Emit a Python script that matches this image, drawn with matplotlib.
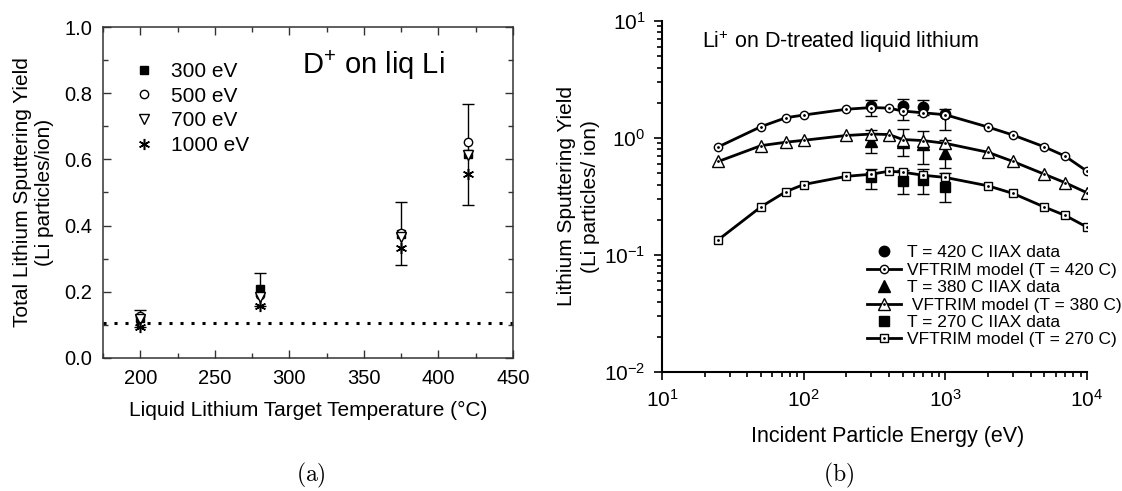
import numpy as np
import matplotlib
matplotlib.use('Agg')
import matplotlib.pyplot as plt
from matplotlib.ticker import MultipleLocator, LogLocator, NullFormatter
from matplotlib.legend_handler import HandlerTuple

plt.rcParams['font.family'] = ['Liberation Sans', 'DejaVu Sans']
plt.rcParams['mathtext.fontset'] = 'custom'
plt.rcParams['mathtext.rm'] = 'Liberation Sans'
plt.rcParams['mathtext.it'] = 'Liberation Sans:italic'

### (a) total yield vs target temperature
temps = [200, 280, 375, 420]
y300 = [0.120, 0.208, 0.375, 0.615]
err300 = [0.025, 0.050, 0.095, 0.152]
y500 = [0.128, 0.190, 0.378, 0.653]
y700 = [0.118, 0.183, 0.365, 0.612]
y1000 = [0.093, 0.158, 0.333, 0.555]
yield_floor = 0.107

### (b) Li+ yield vs incident energy
e_model = [25, 50, 75, 100, 200, 300, 400, 500, 700, 1000, 2000, 3000, 5000, 7000, 10000]
m420 = [0.84, 1.25, 1.49, 1.57, 1.76, 1.82, 1.80, 1.70, 1.64, 1.58, 1.24, 1.06, 0.84, 0.70, 0.52]
m380 = [0.63, 0.86, 0.92, 0.955, 1.05, 1.08, 1.07, 0.97, 0.95, 0.90, 0.755, 0.63, 0.49, 0.415, 0.34]
m270 = [0.135, 0.258, 0.348, 0.40, 0.47, 0.49, 0.52, 0.51, 0.48, 0.46, 0.39, 0.336, 0.257, 0.218, 0.173]

e_data = [300, 500, 700, 1000]
d420 = [1.87, 1.89, 1.85, 1.59]
d420_lo = [1.53, 1.42, 1.58, 1.18]
d420_hi = [2.11, 2.15, 2.10, 1.77]
d380 = [0.95, 0.93, 0.88, 0.745]
d380_lo = [0.745, 0.70, 0.60, 0.55]
d380_hi = [1.18, 1.20, 1.15, 0.97]
d270 = [0.46, 0.43, 0.435, 0.38]
d270_lo = [0.364, 0.33, 0.33, 0.286]
d270_hi = [0.54, 0.53, 0.54, 0.50]

fig = plt.figure(figsize=(11.22, 4.91), dpi=100)

# ---- panel a
ax = fig.add_axes([0.0918, 0.2709, 0.3654, 0.6741])
ax.axhline(yield_floor, color='k', ls=(0, (1, 2.6)), lw=2.2, zorder=1)
ax.errorbar(temps, y300, yerr=err300, fmt='none', ecolor='k', elinewidth=1.0,
            capsize=4, capthick=1.0, zorder=2)
ax.plot(temps, y300, 's', color='k', ms=5.5, ls='none', label='300 eV', zorder=3)
ax.plot(temps, y500, 'o', mfc='white', mec='k', mew=1.0, ms=6, ls='none', label='500 eV', zorder=4)
ax.plot(temps, y700, 'v', mfc='white', mec='k', mew=1.0, ms=6.5, ls='none', label='700 eV', zorder=4)
ax.plot(temps, y1000, marker=(6, 2, 0), color='k', mew=1.1, ms=8, ls='none',
        label='1000 eV', zorder=4)

ax.set_xlim(175, 450)
ax.set_ylim(0.0, 1.0)
ax.xaxis.set_major_locator(MultipleLocator(50))
ax.xaxis.set_minor_locator(MultipleLocator(25))
ax.yaxis.set_major_locator(MultipleLocator(0.2))
ax.yaxis.set_minor_locator(MultipleLocator(0.1))
ax.yaxis.set_major_formatter(lambda v, p: '%.1f' % v)
ax.tick_params(which='both', direction='in', top=True, right=True, width=1.0,
               labelsize=14.5, color='#333333')
ax.tick_params(which='major', length=6, pad=8)
ax.tick_params(which='minor', length=3.5)
for s in ax.spines.values():
    s.set_linewidth(1.1)
    s.set_color('#333333')
ax.set_xlabel('Liquid Lithium Target Temperature (°C)', fontsize=15, labelpad=9)
ax.set_ylabel('Total Lithium Sputtering Yield\n(Li particles/ion)', fontsize=15,
              labelpad=7, linespacing=1.2)
ax.text(0.66, 0.885, 'D$^{+}$ on liq Li', transform=ax.transAxes, fontsize=21,
        ha='center', va='center')
ax.legend(loc='upper left', bbox_to_anchor=(0.055, 0.92), frameon=False, fontsize=15,
          handlelength=1.0, handletextpad=0.8, labelspacing=0.28, borderaxespad=0)

# ---- panel b
bx = fig.add_axes([0.590, 0.2424, 0.3788, 0.7149])
bx.set_xscale('log')
bx.set_yscale('log')

for yd, lo, hi in [(d420, d420_lo, d420_hi), (d380, d380_lo, d380_hi), (d270, d270_lo, d270_hi)]:
    yd = np.array(yd)
    bx.errorbar(e_data, yd, yerr=[yd - np.array(lo), np.array(hi) - yd], fmt='none',
                ecolor='k', elinewidth=1.0, capsize=4, capthick=1.0, zorder=2)

h420d, = bx.plot(e_data, d420, 'o', color='k', ms=7.5, ls='none', zorder=3)
h380d, = bx.plot(e_data, d380, '^', color='k', ms=9, ls='none', zorder=3)
h270d, = bx.plot(e_data, d270, 's', color='k', ms=6.5, ls='none', zorder=3)

model_handles = []
for ym, mk, ms in [(m420, 'o', 6), (m380, '^', 8.5), (m270, 's', 5.5)]:
    ln, = bx.plot(e_model, ym, '-', color='k', lw=2.0, marker=mk, ms=ms, mfc='white',
                  mec='k', mew=1.0, zorder=4)
    dot, = bx.plot(e_model, ym, '.', color='k', ms=2, ls='none', zorder=5)
    model_handles.append((ln, dot))

bx.set_xlim(10, 1e4)
bx.set_ylim(1e-2, 10)
bx.xaxis.set_major_locator(LogLocator(base=10, numticks=10))
bx.xaxis.set_minor_locator(LogLocator(base=10, subs=np.arange(2, 10), numticks=10))
bx.yaxis.set_major_locator(LogLocator(base=10, numticks=10))
bx.yaxis.set_minor_locator(LogLocator(base=10, subs=np.arange(2, 10), numticks=10))
bx.xaxis.set_minor_formatter(NullFormatter())
bx.yaxis.set_minor_formatter(NullFormatter())
bx.tick_params(which='both', direction='out', width=1.2, labelsize=15)
bx.tick_params(which='major', length=6, pad=6)
bx.tick_params(which='minor', length=3.5)
bx.spines['top'].set_visible(False)
bx.spines['right'].set_visible(False)
for s in ['left', 'bottom']:
    bx.spines[s].set_linewidth(1.5)
bx.set_xlabel('Incident Particle Energy (eV)', fontsize=15.5, labelpad=11)
bx.xaxis.set_label_coords(0.53, -0.155)
bx.set_ylabel('Lithium Sputtering Yield\n(Li particles/ ion)', fontsize=15,
              labelpad=3, linespacing=1.3)
bx.text(0.095, 0.94, 'Li$^{+}$ on D-treated liquid lithium', transform=bx.transAxes,
        fontsize=15.5, ha='left', va='center')

handles = [h420d, model_handles[0], h380d, model_handles[1], h270d, model_handles[2]]
labels = ['T = 420 C IIAX data', 'VFTRIM model (T = 420 C)',
          'T = 380 C IIAX data', ' VFTRIM model (T = 380 C)',
          'T = 270 C IIAX data', 'VFTRIM model (T = 270 C)']
bx.legend(handles, labels, loc='lower right', bbox_to_anchor=(1.097, 0.05), frameon=False,
          fontsize=12.5, handlelength=2.0, handletextpad=0.3, labelspacing=0.13,
          borderaxespad=0, handler_map={tuple: HandlerTuple(ndivide=1, pad=0)})

fig.text(0.277, 0.032, r'$\mathrm{(a)}$', math_fontfamily='cm', fontsize=17,
         ha='center', va='center')
fig.text(0.747, 0.032, r'$\mathrm{(b)}$', math_fontfamily='cm', fontsize=17,
         ha='center', va='center')

plt.savefig('out.png', dpi=100)
